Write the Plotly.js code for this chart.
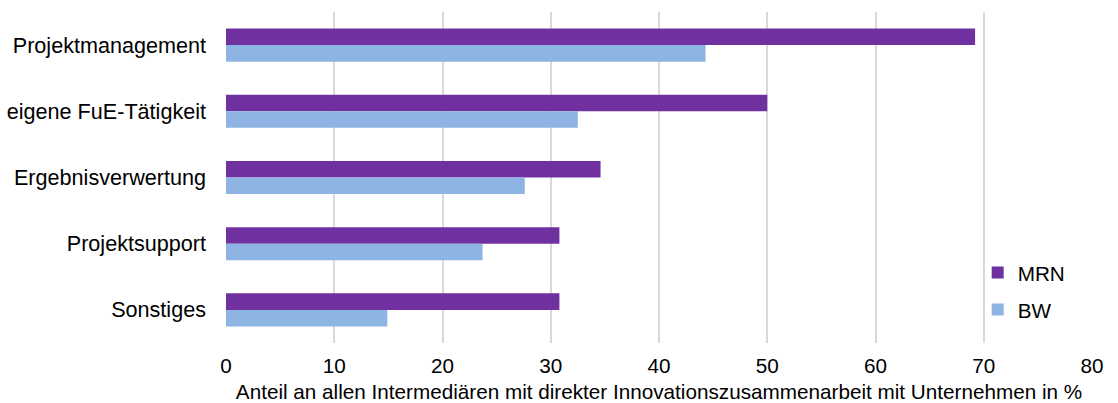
<!DOCTYPE html>
<html>
<head>
<meta charset="utf-8">
<script src="https://cdn.plot.ly/plotly-3.0.1.min.js"></script>
<style>html,body{margin:0;padding:0;background:#fff;}#chart{width:1118px;height:403px;}</style>
</head>
<body>
<div id="chart"></div>
<script>
const categories = ["Projektmanagement", "eigene FuE-Tätigkeit", "Ergebnisverwertung", "Projektsupport", "Sonstiges"];
const mrnValues = [69.2, 50.0, 34.6, 30.8, 30.8];
const bwValues = [44.3, 32.5, 27.6, 23.7, 14.9];
const xTicks = [0, 10, 20, 30, 40, 50, 60, 70, 80];
const seriesNames = ["MRN", "BW"];
const axisTitle = "Anteil an allen Intermediären mit direkter Innovationszusammenarbeit mit Unternehmen in %";

const fam = "Liberation Sans, Arial, sans-serif";
const catFont = {family: fam, size: 21.6, color: "#000000"};
const tickFont = {family: fam, size: 20.7, color: "#000000"};
const titleFont = {family: fam, size: 20.7, color: "#000000"};

const traces = [
  {type: "bar", orientation: "h", name: seriesNames[0], y: categories, x: mrnValues,
   marker: {color: "#7030A0"}, legendgroup: "a", hoverinfo: "x+name"},
  {type: "bar", orientation: "h", name: seriesNames[1], y: categories, x: bwValues,
   marker: {color: "#8EB4E3"}, legendgroup: "b", hoverinfo: "x+name"}
];

const layout = {
  width: 1118, height: 403,
  margin: {l: 226, r: 26, t: 12, b: 60},
  paper_bgcolor: "#ffffff", plot_bgcolor: "#ffffff",
  font: tickFont,
  barmode: "group", bargap: 0.5, bargroupgap: 0,
  xaxis: {
    range: [0, 80], tickvals: xTicks, ticktext: xTicks.map(String),
    showgrid: true, gridcolor: "#D9D9D9", gridwidth: 2,
    zeroline: false, showline: false, ticks: "", ticklen: 0,
    ticklabelstandoff: 8,
    tickfont: tickFont,
    title: {text: "\u00a0\u00a0" + axisTitle, font: titleFont, standoff: 10}
  },
  yaxis: {
    autorange: "reversed", showgrid: false, zeroline: false, showline: false,
    ticks: "", ticklabelstandoff: 19, tickfont: catFont
  },
  legend: {
    x: 0.868, y: 0.273, xanchor: "left", yanchor: "top",
    font: tickFont, tracegroupgap: 7, bgcolor: "rgba(0,0,0,0)"
  },
  showlegend: true
};

Plotly.newPlot("chart", traces, layout, {displayModeBar: false, staticPlot: true});
</script>
</body>
</html>
